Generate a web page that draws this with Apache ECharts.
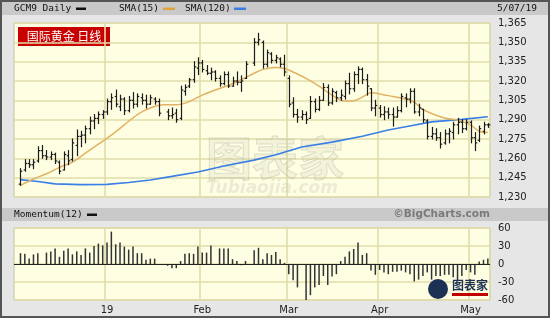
<!DOCTYPE html>
<html><head><meta charset="utf-8">
<script src="https://cdn.jsdelivr.net/npm/echarts@6/dist/echarts.min.js"></script>
<style>html,body{margin:0;padding:0;background:#e6e6e6}#c{width:550px;height:318px}</style>
</head><body><div id="c"></div>
<script>
// ---- data (index 0 = empty slot; 1 = 2018-12-03 ... 109 = 2019-05-07) ----
const monthIdx = [21, 43, 63, 84, 105];
const monthLabels = ['19', 'Feb', 'Mar', 'Apr', 'May'];
const yTicksMain = [1230, 1365, 15];
const opens = [null,
1240,1251,1256,1255,1258,1266,1262,1261,1263,1257,
1251,1262,1259,1270,1277,1278,1283,1289,1291,1294,
1296,1304,1308,1300,1306,1297,1305,1302,1307,1305,
1302,1306,1304,null,1296,1293,1295,1291,1312,1316,
1321,1330,1334,1328,1326,1327,1322,1318,1325,1316,
1320,1319,1322,null,1334,1350,1350,1333,1341,1336,
1337,1333,1322,1303,1294,1292,1294,1291,1304,1298,
1305,1315,1303,1311,1307,1308,1318,1314,1325,1329,
1321,1314,1299,1299,1294,1296,1294,1292,1297,1307,
1306,1312,1296,1298,1289,1277,1279,1276,1272,1279,
1280,1286,1288,1283,1288,1276,1274,1281,1286];
const highs = [null,
1252,1259,1259,1259,1269,1270,1266,1265,1264,1258,
1265,1266,1275,1282,1281,1285,1292,1294,1296,1297,
1306,1310,1313,1309,1307,1308,1311,1310,1310,1309,
1309,1307,1306,null,1298,1299,1298,1316,1317,1322,
1335,1338,1336,1332,1330,1328,1324,1327,1327,1323,
1327,1324,1335,null,1353,1357,1351,1344,1342,1340,
1338,1340,1324,1307,1298,1297,1296,1308,1306,1308,
1318,1317,1314,1312,1313,1320,1326,1327,1331,1330,
1325,1314,1305,1301,1300,1299,1299,1300,1310,1310,
1314,1314,1302,1298,1290,1284,1283,1280,1282,1283,
1288,1291,1290,1290,1289,1280,1285,1288,1287];
const lows = [null,
1239,1250,1253,1252,1257,1260,1259,1259,1256,1248,
1251,1255,1258,1262,1269,1272,1279,1283,1287,1291,
1294,1298,1300,1297,1294,1296,1299,1300,1302,1299,
1302,1302,1293,null,1290,1291,1288,1290,1309,1315,
1319,1325,1327,1325,1321,1320,1316,1317,1315,1316,
1317,1312,1322,null,1332,1348,1330,1331,1334,1334,
1331,1324,1300,1292,1288,1290,1287,1291,1296,1297,
1305,1301,1302,1304,1305,1306,1310,1312,1318,1318,
1309,1297,1293,1292,1290,1291,1285,1292,1296,1300,
1303,1295,1293,1288,1275,1275,1274,1268,1271,1272,
1275,1279,1280,1282,1272,1266,1273,1279,1284];
const closes = [null,
1250,1256,1255,1257,1266,1262,1261,1263,1258,1250,
1263,1258,1272,1277,1278,1283,1289,1291,1294,1296,
1304,1307,1302,1306,1297,1305,1302,1308,1305,1302,
1307,1304,1295,null,1293,1294,1290,1313,1315,1321,
1331,1334,1329,1326,1327,1322,1318,1325,1316,1320,
1319,1320,1333,null,1350,1352,1333,1342,1336,1338,
1333,1327,1302,1294,1292,1294,1290,1304,1298,1305,
1315,1303,1312,1307,1309,1318,1314,1325,1329,1321,
1316,1299,1301,1294,1296,1294,1292,1297,1308,1306,
1312,1296,1299,1290,1277,1279,1276,1271,1279,1281,
1286,1288,1283,1288,1276,1272,1283,1286,1286];
const sma15 = [[1,1239],[4,1244],[7,1248],[10,1253],[13,1257],[16,1264],[19,1271],[22,1278],
[25,1286],[28,1294],[31,1299],[34,1301.5],[37,1301.5],[40,1304],[43,1309],[46,1313],[49,1316.5],
[52,1321],[55,1326],[57,1329],[60,1330.5],[62,1329.7],[64,1327],[67,1322],[70,1316],[73,1309],
[76,1304.4],[78,1304.6],[80,1307.5],[82,1310.8],[84,1310],[87,1308],[90,1306],[92,1303.5],
[94,1298],[96,1294.8],[99,1291.3],[102,1289.6],[105,1286],[107,1281],[109,1280]];
const sma120 = [[1,1243.5],[5,1242],[9,1240.2],[15,1239.6],[21,1239.8],[26,1241.2],[31,1243.2],
[36,1246],[42,1249.4],[48,1254],[55,1258.6],[60,1262.8],[66,1268.8],[73,1272.6],[80,1277.2],
[86,1282],[90,1284.5],[96,1288.3],[103,1290.2],[109,1292.3]];
const momentum = [null,
18,17,9,16,18,null,19,21,26,12,
22,26,16,21,15,26,19,30,34,31,
36,54,33,36,29,24,29,18,18,7,
9,9,-1,null,-3,-7,-7,5,17,18,
17,29,19,19,31,null,26,26,26,8,
5,-2,5,null,23,27,8,18,15,20,
8,2,-17,-27,-39,null,-60,-52,-39,-35,
-20,-35,-21,-17,5,12,21,25,36,15,
18,-11,-18,-10,-14,-17,-13,-13,-11,-14,
-17,-29,-26,-20,-14,-26,-20,-20,-18,-18,
-22,-27,-20,-10,-14,-18,4,7,9];

// ---- chart ----
const cats = opens.map((_, i) => String(i));
const ohlc = [];
for (let i = 0; i < opens.length; i++) {
  if (highs[i] != null) ohlc.push([i, opens[i], highs[i], lows[i], closes[i]]);
}
const MONO = '"DejaVu Sans Mono", monospace';
const SANS = '"DejaVu Sans", Verdana, sans-serif';
const CJK = '"Noto Sans CJK SC", sans-serif';
const GRID_C = '#e0dcaa';
const isMonth = (i) => monthIdx.indexOf(i) >= 0;
const fmtK = (v) => String(v).replace(/\B(?=(\d{3})+(?!\d))/g, ',');

function renderOHLC(params, api) {
  const i = api.value(0);
  const pO = api.coord([i, api.value(1)]);
  const pH = api.coord([i, api.value(2)]);
  const pL = api.coord([i, api.value(3)]);
  const pC = api.coord([i, api.value(4)]);
  const x = Math.round(pH[0]) + 0.5;
  const st = {stroke: '#1c1c1c', lineWidth: 1.2};
  return {type: 'group', children: [
    {type: 'line', shape: {x1: x, y1: pH[1] - 0.5, x2: x, y2: pL[1] + 0.5}, style: st},
    {type: 'line', shape: {x1: x - 1.8, y1: pO[1], x2: x, y2: pO[1]}, style: st},
    {type: 'line', shape: {x1: x, y1: pC[1], x2: x + 1.8, y2: pC[1]}, style: st}
  ]};
}

const xBase = {
  type: 'category', data: cats, boundaryGap: true,
  axisLine: {show: false}, axisTick: {show: false},
  splitLine: {show: true, interval: (i) => isMonth(i), lineStyle: {color: GRID_C, width: 1.6}}
};

const chart = echarts.init(document.getElementById('c'));
chart.setOption({
  animation: false,
  backgroundColor: '#e6e6e6',
  grid: [
    {left: 14, top: 23, width: 476, height: 174, show: true, backgroundColor: '#fefee2', borderColor: '#c4c2a8', borderWidth: 1},
    {left: 14, top: 228, width: 476, height: 72, show: true, backgroundColor: '#fefee2', borderColor: '#c4c2a8', borderWidth: 1}
  ],
  xAxis: [
    Object.assign({}, xBase, {gridIndex: 0, axisLabel: {show: false}}),
    Object.assign({}, xBase, {gridIndex: 1, axisLabel: {
      show: true, interval: (i) => isMonth(i), margin: 5,
      formatter: (v, i) => monthLabels[monthIdx.indexOf(Number(v))] || '',
      fontFamily: SANS, fontSize: 10, color: '#222'}})
  ],
  yAxis: [
    {gridIndex: 0, type: 'value', position: 'right', min: yTicksMain[0], max: yTicksMain[1], interval: yTicksMain[2],
      axisLine: {show: false}, axisTick: {show: false},
      axisLabel: {formatter: fmtK, margin: 8, fontFamily: SANS, fontSize: 10, color: '#222'},
      splitLine: {lineStyle: {color: GRID_C, width: 1.6}}},
    {gridIndex: 1, type: 'value', position: 'right', min: -60, max: 60, interval: 30,
      axisLine: {show: false}, axisTick: {show: false},
      axisLabel: {margin: 8, fontFamily: SANS, fontSize: 10, color: '#222'},
      splitLine: {lineStyle: {color: GRID_C, width: 1.6}}}
  ],
  series: [
    {type: 'line', xAxisIndex: 0, yAxisIndex: 0, data: sma120, showSymbol: false, symbol: 'none',
      lineStyle: {color: '#3a7fe6', width: 1.6}, z: 2},
    {type: 'line', xAxisIndex: 0, yAxisIndex: 0, data: sma15, showSymbol: false, symbol: 'none', smooth: 0.3,
      lineStyle: {color: '#e2b264', width: 1.5}, z: 2},
    {type: 'custom', xAxisIndex: 0, yAxisIndex: 0, data: ohlc, renderItem: renderOHLC,
      encode: {x: 0, y: [1, 2, 3, 4]}, z: 3},
    {type: 'bar', xAxisIndex: 1, yAxisIndex: 1, data: momentum, barWidth: 1.5,
      itemStyle: {color: '#333'}, z: 3,
      markLine: {silent: true, symbol: 'none', label: {show: false},
        lineStyle: {color: '#222', width: 1, type: 'solid'}, data: [{yAxis: 0}]}}
  ],
  graphic: [
    {type: 'rect', shape: {x: 0, y: 0, width: 550, height: 15}, style: {fill: '#c9c9c9'}},
    {type: 'rect', shape: {x: 0, y: 208, width: 550, height: 13}, style: {fill: '#c9c9c9'}},
    {type: 'text', x: 14, y: 8.5, style: {text: 'GCM9 Daily', font: '9.5px ' + MONO, fill: '#111', textVerticalAlign: 'middle'}},
    {type: 'rect', shape: {x: 76, y: 7.5, width: 10, height: 2.5}, style: {fill: '#111'}},
    {type: 'text', x: 119, y: 8.5, style: {text: 'SMA(15)', font: '9.5px ' + MONO, fill: '#111', textVerticalAlign: 'middle'}},
    {type: 'rect', shape: {x: 163, y: 7.5, width: 12, height: 2.5}, style: {fill: '#e0a53a'}},
    {type: 'text', x: 185, y: 8.5, style: {text: 'SMA(120)', font: '9.5px ' + MONO, fill: '#111', textVerticalAlign: 'middle'}},
    {type: 'rect', shape: {x: 234, y: 7.5, width: 12, height: 2.5}, style: {fill: '#3a7fe6'}},
    {type: 'text', x: 537, y: 8.5, style: {text: '5/07/19', font: '9.5px ' + MONO, fill: '#111', textAlign: 'right', textVerticalAlign: 'middle'}},
    {type: 'text', x: 14, y: 214.5, style: {text: 'Momentum(12)', font: '9.5px ' + MONO, fill: '#111', textVerticalAlign: 'middle'}},
    {type: 'rect', shape: {x: 87, y: 213.5, width: 10, height: 2.5}, style: {fill: '#111'}},
    {type: 'text', x: 490, y: 214.5, style: {text: '©BigCharts.com', font: 'bold 10.5px ' + SANS, fill: '#7a7a7a', textAlign: 'right', textVerticalAlign: 'middle'}},
    {type: 'rect', shape: {x: 18, y: 27, width: 92, height: 19}, style: {fill: '#c80000'}},
    {type: 'text', x: 64, y: 36.5, style: {text: '国际黄金 日线', font: '12px ' + CJK, fill: '#fff', textAlign: 'center', textVerticalAlign: 'middle'}},
    {type: 'text', x: 275, y: 158, z: 1, style: {text: '图表家', font: 'bold 46px ' + CJK, fill: 'rgba(200,200,185,0.20)', stroke: 'rgba(160,160,150,0.30)', lineWidth: 1, textAlign: 'center', textVerticalAlign: 'middle'}},
    {type: 'text', x: 272, y: 189, z: 1, style: {text: 'Tubiaojia.com', font: 'italic bold 17px ' + SANS, fill: 'rgba(190,190,180,0.28)', textAlign: 'center', textVerticalAlign: 'middle'}},
    {type: 'circle', shape: {cx: 438, cy: 289, r: 10}, z: 5, style: {fill: '#1d3155'}},
    {type: 'text', x: 470, y: 285, z: 5, style: {text: '图表家', font: 'bold 12px ' + CJK, fill: '#1d3155', textAlign: 'center', textVerticalAlign: 'middle'}},
    {type: 'rect', shape: {x: 452, y: 293, width: 36, height: 3}, z: 5, style: {fill: '#c00000'}},
    {type: 'rect', shape: {x: 1, y: 1, width: 548, height: 316}, style: {fill: 'none', stroke: '#555', lineWidth: 2}}
  ]
});
</script></body></html>
